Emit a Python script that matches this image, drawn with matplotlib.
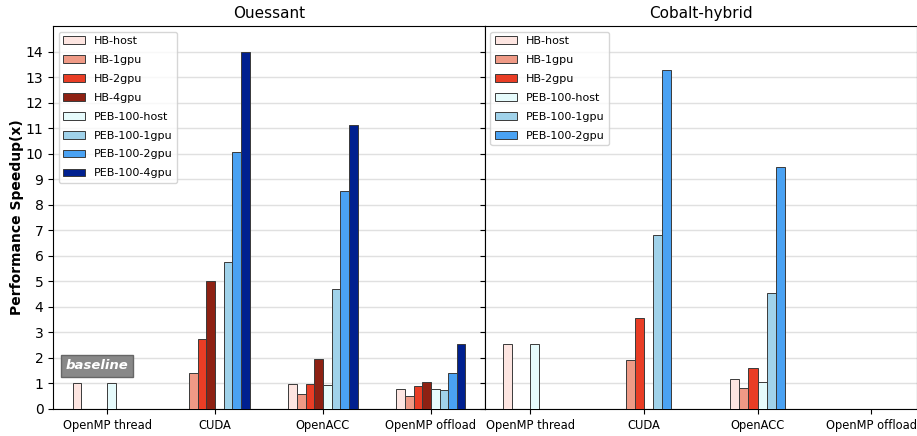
import matplotlib
matplotlib.use('Agg')
import matplotlib.pyplot as plt
import numpy as np

nan = np.nan
versions = ['OpenMP thread', 'CUDA', 'OpenACC', 'OpenMP offload']

# Ouessant speedups
oue_labels = ['HB-host', 'HB-1gpu', 'HB-2gpu', 'HB-4gpu',
              'PEB-100-host', 'PEB-100-1gpu', 'PEB-100-2gpu', 'PEB-100-4gpu']
oue_hb_host = [1.0, nan, 0.96, 0.77]
oue_hb_1gpu = [nan, 1.42, 0.58, 0.51]
oue_hb_2gpu = [nan, 2.74, 0.96, 0.90]
oue_hb_4gpu = [nan, 5.01, 1.97, 1.06]
oue_peb_host = [1.0, nan, 0.93, 0.77]
oue_peb_1gpu = [nan, 5.76, 4.71, 0.74]
oue_peb_2gpu = [nan, 10.08, 8.54, 1.42]
oue_peb_4gpu = [nan, 13.98, 11.13, 2.56]

# Cobalt-hybrid speedups
cob_labels = ['HB-host', 'HB-1gpu', 'HB-2gpu',
              'PEB-100-host', 'PEB-100-1gpu', 'PEB-100-2gpu']
cob_hb_host = [2.55, nan, 1.18, nan]
cob_hb_1gpu = [nan, 1.90, 0.84, nan]
cob_hb_2gpu = [nan, 3.58, 1.62, nan]
cob_peb_host = [2.55, nan, 1.04, nan]
cob_peb_1gpu = [nan, 6.80, 4.55, nan]
cob_peb_2gpu = [nan, 13.28, 9.47, nan]

oue_colors = ['#fde5e1', '#ef9a86', '#e93d25', '#8e2113',
              '#e6fbfc', '#a0d2ea', '#4aa2f3', '#00208f']
cob_colors = ['#fde5e1', '#ef9a86', '#e93d25',
              '#e6fbfc', '#a0d2ea', '#4aa2f3']

oue_data = [oue_hb_host, oue_hb_1gpu, oue_hb_2gpu, oue_hb_4gpu,
            oue_peb_host, oue_peb_1gpu, oue_peb_2gpu, oue_peb_4gpu]
cob_data = [cob_hb_host, cob_hb_1gpu, cob_hb_2gpu,
            cob_peb_host, cob_peb_1gpu, cob_peb_2gpu]

fig, (ax1, ax2) = plt.subplots(1, 2, figsize=(9.17, 4.36), dpi=100, sharey=True)
fig.subplots_adjust(left=0.058, right=0.9995, top=0.94, bottom=0.062, wspace=0)

width = 0.08
x = np.arange(len(versions))


def draw(ax, data, labels, colors, title):
    n = len(data)
    for i, (vals, lab, col) in enumerate(zip(data, labels, colors)):
        ax.bar(x + (i - n // 2) * width, vals, width, align='edge', color=col,
               edgecolor='#3a3a3a', linewidth=0.7, label=lab, zorder=3)
    ax.set_xticks(x)
    ax.set_xticklabels(versions, fontsize=8.3)
    ax.set_title(title, fontsize=11)
    ax.grid(axis='y', color='#e0e0e0', linewidth=1, zorder=0)
    ax.legend(loc='upper left', fontsize=8, labelspacing=0.8)


draw(ax1, oue_data, oue_labels, oue_colors, 'Ouessant')
draw(ax2, cob_data, cob_labels, cob_colors, 'Cobalt-hybrid')

ax1.set_xlim(-0.5, 3.5)
ax2.set_xlim(-0.4, 3.4)
ax1.set_ylim(0, 15)
ax1.set_yticks(np.arange(0, 15))
ax1.set_ylabel('Performance Speedup(x)', fontweight='bold', fontsize=10, labelpad=1)
ax2.tick_params(axis='y', labelleft=False)

ax1.text(-0.09, 1.69, 'baseline', color='white', fontweight='bold', fontstyle='italic',
         fontsize=9.5, ha='center', va='center', zorder=5,
         bbox=dict(boxstyle='square,pad=0.35', facecolor='#888888', edgecolor='#666666'))

plt.savefig('out.png', dpi=100)
